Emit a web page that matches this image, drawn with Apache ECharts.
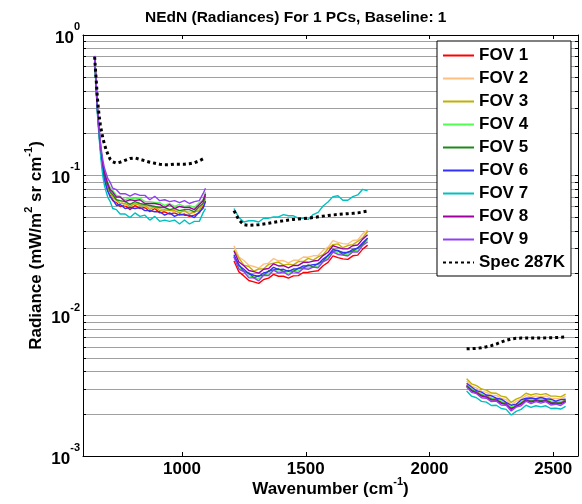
<!DOCTYPE html>
<html><head><meta charset="utf-8">
<script src="https://cdn.jsdelivr.net/npm/echarts@6/dist/echarts.min.js"></script>
<style>html,body{margin:0;padding:0;background:#fff}#c{width:582px;height:504px}</style>
</head><body><div id="c"></div>
<script>
const titleText = 'NEdN (Radiances) For 1 PCs, Baseline: 1';
const fovNames = ['FOV 1','FOV 2','FOV 3','FOV 4','FOV 5','FOV 6','FOV 7','FOV 8','FOV 9'];
const specName = 'Spec 287K';
const fovColors = ['#ff0000','#ffbf80','#c0b000','#50ff50','#1a8a1a','#3030ff','#00c0c0','#a000a0','#9040f0'];

const xTickValues = [1000, 1500, 2000, 2500];
const yLabelValues = [0.001, 0.01, 0.1, 1];
const yGridValues = [0.001,0.002,0.003,0.004,0.005,0.006,0.007,0.008,0.009,
  0.01,0.02,0.03,0.04,0.05,0.06,0.07,0.08,0.09,
  0.1,0.2,0.3,0.4,0.5,0.6,0.7,0.8,0.9,1];

const band1X = [647,650,654,658,662,666,670,675,680,686,693,700,710,720,735,750,770,790,810,830,850,870,890,910,930,950,970,990,1010,1030,1050,1070,1085,1095];
const band2X = [1210,1230,1250,1270,1290,1310,1330,1350,1370,1390,1410,1430,1450,1470,1490,1510,1530,1550,1570,1590,1610,1630,1650,1670,1690,1710,1730,1750];
const band3X = [2150,2170,2190,2210,2230,2250,2270,2290,2310,2330,2350,2370,2390,2410,2430,2450,2470,2490,2510,2530,2550];

const specBand1 = [.70,.58,.46,.36,.30,.26,.23,.205,.185,.168,.153,.142,.130,.125,.122,.124,.128,.132,.133,.130,.127,.124,.122,.120,.119,.119,.120,.120,.120,.121,.123,.127,.131,.133];
const specBand2 = [.056,.048,.0445,.044,.0442,.0445,.045,.0455,.0462,.0468,.0474,.048,.0485,.0488,.0492,.0496,.05,.0506,.0512,.0518,.0522,.0526,.053,.0533,.0536,.054,.0548,.0556];
const specBand3 = [.0058,.00582,.00585,.0059,.006,.00612,.00628,.0065,.00668,.00682,.0069,.00692,.00692,.00692,.00692,.00694,.00695,.00697,.00698,.00702,.00705];

const fov1Band1 = [.69,.55,.40,.29,.235,.19,.158,.130,.110,.096,.086,.078,.073,.066,.064,.060,.061,.057,.061,.058,.059,.055,.058,.054,.055,.053,.054,.052,.053,.051,.052,.054,.060,.066];
const fov2Band1 = [.70,.56,.41,.30,.24,.193,.160,.133,.114,.100,.090,.082,.074,.071,.065,.066,.061,.063,.062,.063,.060,.059,.059,.058,.056,.057,.055,.056,.055,.055,.054,.058,.062,.069];
const fov3Band1 = [.70,.55,.40,.295,.235,.19,.16,.132,.113,.099,.089,.081,.076,.069,.067,.063,.063,.060,.063,.061,.061,.057,.060,.056,.057,.056,.056,.054,.056,.053,.055,.056,.063,.068];
const fov4Band1 = [.71,.57,.42,.31,.25,.20,.170,.142,.123,.109,.099,.090,.082,.078,.072,.071,.067,.069,.068,.069,.065,.065,.064,.064,.061,.063,.060,.062,.060,.061,.059,.064,.067,.076];
const fov5Band1 = [.70,.56,.41,.30,.24,.196,.162,.136,.115,.103,.091,.085,.076,.073,.067,.066,.065,.062,.065,.063,.062,.061,.060,.059,.059,.057,.058,.056,.057,.057,.055,.060,.063,.072];
const fov6Band1 = [.69,.54,.40,.29,.232,.188,.156,.128,.108,.094,.085,.077,.070,.067,.061,.062,.058,.059,.058,.059,.056,.056,.055,.055,.052,.054,.051,.053,.052,.052,.050,.055,.058,.065];
const fov7Band1 = [.68,.52,.38,.28,.22,.178,.146,.118,.099,.086,.077,.070,.065,.058,.057,.053,.053,.050,.054,.051,.052,.048,.051,.047,.048,.047,.048,.045,.048,.045,.047,.047,.054,.058];
const fov8Band1 = [.70,.57,.42,.31,.245,.20,.168,.140,.120,.106,.096,.087,.079,.076,.070,.070,.065,.067,.066,.067,.063,.063,.063,.062,.059,.062,.058,.060,.059,.059,.057,.062,.066,.074];
const fov9Band1 = [.71,.58,.43,.32,.255,.21,.176,.148,.129,.114,.104,.095,.089,.081,.079,.074,.074,.071,.074,.072,.072,.067,.071,.066,.067,.065,.066,.064,.066,.063,.065,.066,.074,.081];

const fov1Band2 = [.0245,.0205,.0192,.0178,.0174,.0170,.0181,.0185,.0197,.0191,.0191,.0185,.0192,.0193,.0203,.0204,.0207,.0209,.0227,.0240,.0267,.0259,.0254,.0252,.0267,.0270,.0298,.0318];
const fov2Band2 = [.0315,.0262,.0247,.0229,.0224,.0218,.0233,.0237,.0255,.0246,.0247,.0238,.0248,.0248,.0262,.0261,.0267,.0268,.0292,.0308,.0343,.0333,.0326,.0324,.0343,.0346,.0383,.0408];
const fov3Band2 = [.0294,.0257,.0229,.0224,.0208,.0215,.0216,.0232,.0237,.0241,.0229,.0233,.0230,.0243,.0243,.0256,.0249,.0262,.0272,.0300,.0321,.0325,.0305,.0316,.0321,.0338,.0359,.0398];
const fov4Band2 = [.0264,.0220,.0207,.0192,.0188,.0183,.0196,.0198,.0214,.0206,.0207,.0199,.0208,.0208,.0220,.0219,.0224,.0225,.0245,.0258,.0288,.0280,.0274,.0273,.0288,.0292,.0321,.0344];
const fov5Band2 = [.0265,.0231,.0206,.0202,.0186,.0193,.0194,.0209,.0212,.0216,.0206,.0210,.0207,.0218,.0218,.0230,.0223,.0236,.0244,.0270,.0288,.0292,.0273,.0284,.0288,.0304,.0322,.0357];
const fov6Band2 = [.0272,.0228,.0214,.0199,.0194,.0190,.0202,.0206,.0221,.0213,.0214,.0207,.0215,.0216,.0226,.0227,.0231,.0233,.0253,.0268,.0297,.0290,.0282,.0282,.0297,.0302,.0331,.0356];
const fov7Band2 = [.058,.050,.0465,.0475,.0475,.0465,.0495,.0495,.0505,.0505,.0525,.0515,.0515,.0495,.0495,.0485,.0525,.0545,.0605,.0645,.0705,.0715,.0665,.0665,.0705,.0725,.0795,.0775];
const fov8Band2 = [.0289,.0241,.0227,.0210,.0206,.0201,.0214,.0217,.0234,.0226,.0227,.0219,.0228,.0228,.0240,.0240,.0245,.0247,.0268,.0283,.0315,.0307,.0299,.0299,.0315,.0319,.0351,.0377];
const fov9Band2 = [.0262,.0214,.0206,.0186,.0186,.0177,.0194,.0193,.0211,.0201,.0205,.0194,.0206,.0202,.0217,.0214,.0222,.0219,.0242,.0252,.0284,.0273,.0270,.0266,.0284,.0284,.0317,.0335];

const fov1Band3 = [.00322,.00297,.00288,.00272,.00268,.00255,.00255,.00242,.00238,.00219,.00231,.00239,.00255,.00247,.00253,.00249,.00253,.00242,.00243,.0024,.00251];
const fov2Band3 = [.00342,.00315,.00305,.00289,.00284,.0027,.0027,.00257,.00252,.00232,.00245,.00254,.0027,.00262,.00268,.00264,.00268,.00257,.00257,.00255,.00266];
const fov3Band3 = [.00355,.00327,.00317,.003,.00295,.00281,.0028,.00267,.00262,.00241,.00254,.00263,.0028,.00272,.00278,.00274,.00278,.00267,.00267,.00264,.00276];
const fov4Band3 = [.00318,.00302,.00283,.00277,.00263,.0026,.0025,.00247,.00233,.00224,.00226,.00244,.0025,.00252,.00248,.00254,.00248,.00247,.00238,.00245,.00246];
const fov5Band3 = [.00317,.00296,.00283,.00271,.00264,.00254,.00251,.00241,.00234,.00218,.00227,.00238,.00251,.00246,.00249,.00248,.00249,.00241,.00239,.00239,.00247];
const fov6Band3 = [.0033,.0031,.00292,.00285,.00272,.00268,.00258,.00254,.00241,.0023,.00234,.00251,.00258,.00259,.00256,.00261,.00256,.00254,.00246,.00252,.00254];
const fov7Band3 = [.0029,.00267,.0026,.00245,.00242,.00229,.0023,.00218,.00215,.00196,.00208,.00215,.0023,.00222,.00228,.00224,.00228,.00218,.00219,.00216,.00226];
const fov8Band3 = [.00316,.00291,.00282,.00267,.00263,.0025,.0025,.00237,.00233,.00215,.00226,.00234,.0025,.00242,.00248,.00244,.00248,.00237,.00238,.00235,.00246];
const fov9Band3 = [.0031,.00284,.00278,.0026,.00258,.00244,.00246,.00231,.0023,.00209,.00223,.00228,.00246,.00236,.00244,.00238,.00244,.00231,.00234,.00229,.00242];

const bandX = [band1X, band2X, band3X];
const fovData = [
  [fov1Band1, fov1Band2, fov1Band3],
  [fov2Band1, fov2Band2, fov2Band3],
  [fov3Band1, fov3Band2, fov3Band3],
  [fov4Band1, fov4Band2, fov4Band3],
  [fov5Band1, fov5Band2, fov5Band3],
  [fov6Band1, fov6Band2, fov6Band3],
  [fov7Band1, fov7Band2, fov7Band3],
  [fov8Band1, fov8Band2, fov8Band3],
  [fov9Band1, fov9Band2, fov9Band3]
];
const specData = [specBand1, specBand2, specBand3];

const F = '"Liberation Sans", Arial, sans-serif';
function pairs(xs, ys) { return xs.map((x, i) => [x, ys[i]]); }

const series = [];
fovData.forEach((bands, f) => {
  bands.forEach((ys, b) => {
    series.push({
      type: 'line', name: fovNames[f], data: pairs(bandX[b], ys),
      symbol: 'none', showSymbol: false, animation: false,
      lineStyle: { width: 1.4, color: fovColors[f] }, itemStyle: { color: fovColors[f] }
    });
  });
});
specData.forEach((ys, b) => {
  series.push({
    type: 'line', name: specName, data: pairs(bandX[b], ys),
    symbol: 'none', showSymbol: false, animation: false,
    lineStyle: { width: 3, color: '#000', type: [3, 3], cap: 'butt' }, itemStyle: { color: '#000' }
  });
});

const tickRich = {
  b: { fontFamily: F, fontSize: 17, fontWeight: 'bold', color: '#000', lineHeight: 27, verticalAlign: 'bottom', padding: [0, 0, 2, 0] },
  s: { fontFamily: F, fontSize: 11, fontWeight: 'bold', color: '#000', lineHeight: 11, verticalAlign: 'top' }
};
const nameRich = {
  b: { fontFamily: F, fontSize: 17, fontWeight: 'bold', color: '#000', lineHeight: 24, verticalAlign: 'bottom', padding: [0, 0, 2, 0] },
  s: { fontFamily: F, fontSize: 11, fontWeight: 'bold', color: '#000', lineHeight: 11, verticalAlign: 'top' }
};

const chart = echarts.init(document.getElementById('c'), null, { renderer: 'canvas' });
chart.setOption({
  backgroundColor: '#fff',
  animation: false,
  title: {
    text: titleText, left: 140, top: 5,
    textStyle: { fontFamily: F, fontSize: 15.5, fontWeight: 'bold', color: '#000' }
  },
  legend: {
    data: fovNames.concat([specName]),
    orient: 'vertical', left: 437, top: 41,
    padding: [6, 6, 5, 5], itemGap: 6, itemWidth: 31, itemHeight: 14,
    borderColor: '#000', borderWidth: 1, backgroundColor: '#fff', borderRadius: 0,
    selectedMode: false,
    itemStyle: { opacity: 0 },
    textStyle: { fontFamily: F, fontSize: 17, fontWeight: 'bold', color: '#000', lineHeight: 16 }
  },
  grid: { left: 83, right: 4, top: 35, bottom: 48, containLabel: false, outerBoundsMode: 'none' },
  xAxis: [{
    type: 'value', min: 600, max: 2600, position: 'bottom',
    axisLine: { show: true, onZero: false, lineStyle: { color: '#000', width: 1 } },
    axisTick: { show: true, inside: true, length: 4, customValues: xTickValues, lineStyle: { color: '#000' } },
    axisLabel: { customValues: xTickValues, margin: 5, formatter: v => String(v), fontFamily: F, fontSize: 17, fontWeight: 'bold', color: '#000' },
    splitLine: { show: false },
    name: '{b|Wavenumber (cm}{s|-1}{b|)}', nameLocation: 'middle', nameGap: 20, nameMoveOverlap: false,
    nameTextStyle: { rich: nameRich }
  }, {
    type: 'value', min: 600, max: 2600, position: 'top',
    axisLine: { show: true, onZero: false, lineStyle: { color: '#000', width: 1 } },
    axisTick: { show: true, inside: true, length: 4, customValues: xTickValues, lineStyle: { color: '#000' } },
    axisLabel: { show: false }, splitLine: { show: false }
  }],
  yAxis: [{
    type: 'log', logBase: 10, min: 0.001, max: 1, position: 'left',
    axisLine: { show: true, onZero: false, lineStyle: { color: '#000', width: 1 } },
    axisTick: { show: true, inside: true, length: 3, customValues: yGridValues, lineStyle: { color: '#000' } },
    axisLabel: {
      customValues: yLabelValues, margin: 3,
      formatter: v => '{b|10}{s|' + Math.round(Math.log10(v)) + '}', rich: tickRich
    },
    splitLine: { show: true, lineStyle: { color: '#a0a0a0', width: 1 } },
    name: '{b|Radiance (mW/m}{s|2}{b| sr cm}{s|-1}{b|)}', nameLocation: 'middle', nameGap: 36, nameRotate: 90, nameMoveOverlap: false,
    nameTextStyle: { rich: nameRich }
  }, {
    type: 'log', logBase: 10, min: 0.001, max: 1, position: 'right',
    axisLine: { show: true, onZero: false, lineStyle: { color: '#000', width: 1 } },
    axisTick: { show: true, inside: true, length: 3, customValues: yGridValues, lineStyle: { color: '#000' } },
    axisLabel: { show: false }, splitLine: { show: false }
  }],
  series: series
});
</script></body></html>
